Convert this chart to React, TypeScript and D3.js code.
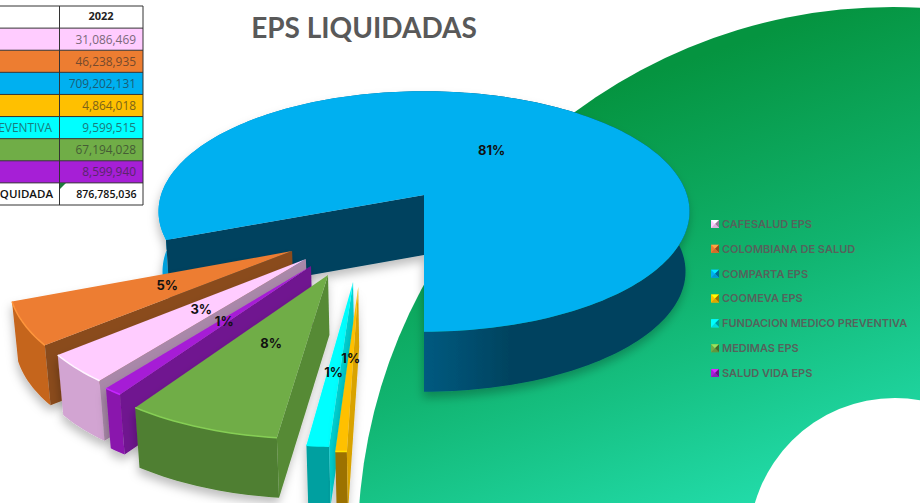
import React from 'react';
import * as d3 from 'd3';

const categories = [
  'CAFESALUD EPS',
  'COLOMBIANA DE SALUD',
  'COMPARTA EPS',
  'COOMEVA EPS',
  'FUNDACION MEDICO PREVENTIVA',
  'MEDIMAS EPS',
  'SALUD VIDA EPS',
];
const values = [31086469, 46238935, 709202131, 4864018, 9599515, 67194028, 8599940];
const percentLabels = ['3%', '5%', '81%', '1%', '1%', '8%', '1%'];
const totalValue = 876785036;
const colors = ['#ffccff', '#ed7d31', '#00b0f0', '#ffc000', '#00ffff', '#70ad47', '#a61fd6'];
const sideColors = ['#a988a9', '#8a4b1d', '#00435f', '#d9a300', '#00d4d4', '#568a36', '#6f1290'];
const rimColors = ['#d2a4d2', '#c5651f', '#045a80', '#9c7200', '#00a0a0', '#4f7f33', '#8a17ad'];

// how far each slice is pulled out of the pie, in pie radii
const pullU = [-0.418, -0.471, 0, -0.226, -0.245, -0.334, -0.397];
const pullV = [0.505, 0.446, 0, 0.705, 0.669, 0.62, 0.556];
const sliceRadius = [0.99, 0.99, 1, 0.97, 0.98, 0.99, 0.98];
const labelRadius = [0.48, 0.48, 0.48, 0.46, 0.58, 0.48, 0.46];

const width = 920;
const height = 503;
const cx = 424;
const cy = 195;
const radiusX = 263;
const radiusY = 118;
const tilt = 0.137;
const depth = 60;

const project = (u: number, v: number, down: number): [number, number] => {
  const s = 1 / (1 - tilt * v);
  const shrink = down ? 0.985 : 1;
  return [cx + radiusX * u * s * shrink, cy + radiusY * v * s + down * depth];
};

const line = d3.line();
const fmt = d3.format(',');

const total = d3.sum(values);
const compartaEnd = d3.sum(values.slice(0, 3)) / total;
const startAngle = Math.PI - 2 * Math.PI * compartaEnd;
const pie = d3
  .pie<number>()
  .sort(null)
  .startAngle(startAngle)
  .endAngle(startAngle + 2 * Math.PI);
const arcs = pie(values);

const drawOrder = d3.range(values.length).sort((a, b) => d3.ascending(pullV[a], pullV[b]));

const sliceParts = (i: number) => {
  const { startAngle: a0, endAngle: a1 } = arcs[i];
  const at = (a: number, r: number, down: number) =>
    project(pullU[i] + r * Math.sin(a), pullV[i] - r * Math.cos(a), down);
  const steps = Math.max(4, Math.ceil((a1 - a0) * 40));
  const angle = d3.scaleLinear().domain([0, steps]).range([a0, a1]);
  const angles = d3.range(steps + 1).map(n => angle(n));
  const r = sliceRadius[i];
  const topArc = angles.map(a => at(a, r, 0));
  const bottomArc = angles.map(a => at(a, r, 1));
  return {
    face: line([at(0, 0, 0), ...topArc]) + 'Z',
    rim: line(topArc) as string,
    wall: line([...topArc, ...bottomArc.reverse()]) + 'Z',
    side: line([at(0, 0, 0), at(a0, r, 0), at(a0, r, 1), at(0, 0, 1)]) + 'Z',
    label: at((a0 + a1) / 2, labelRadius[i], 0),
  };
};

const tableRows = d3.scaleBand<number>().domain(d3.range(9)).range([6, 205]);
const legendY = d3.scalePoint<number>().domain(d3.range(categories.length)).range([224, 373]);

const textOn = (c: string) => d3.interpolateRgb(c, '#2a2a2a')(0.62);

const Swatch = ({ x, y, color }: { x: number; y: number; color: string }) => {
  const c = d3.color(color)!;
  const left = x - 4;
  const right = x + 4;
  const top = y - 4;
  const bottom = y + 4;
  return (
    <g>
      <rect x={left} y={top} width={8} height={8} fill={color} />
      <path d={`M${left},${top}L${right},${top}L${x},${y}Z`} fill={c.brighter(0.8).formatHex()} />
      <path d={`M${right},${top}L${right},${bottom}L${x},${y}Z`} fill={c.darker(1.4).formatHex()} />
      <path d={`M${left},${bottom}L${right},${bottom}L${x},${y}Z`} fill={c.darker(0.4).formatHex()} />
    </g>
  );
};

const App = () => {
  return (
    <svg
      width={width}
      height={height}
      style={{ position: 'absolute', left: 0, top: 0, background: '#fff' }}
      fontFamily="'Open Sans', sans-serif"
    >
      <defs>
        <linearGradient id="bg" gradientUnits="userSpaceOnUse" x1={660} y1={70} x2={810} y2={490}>
          <stop offset="0" stopColor="#059440" />
          <stop offset="0.5" stopColor="#11b470" />
          <stop offset="1" stopColor="#22dcaa" />
        </linearGradient>
        <linearGradient id="blueWall" gradientUnits="userSpaceOnUse" x1={158} y1={0} x2={691} y2={0}>
          <stop offset="0.03" stopColor="#00a0dc" />
          <stop offset="0.5" stopColor="#045a80" />
          <stop offset="0.66" stopColor="#00435f" />
          <stop offset="1" stopColor="#00435f" />
        </linearGradient>
        <filter id="shadow" x="-30%" y="-30%" width="160%" height="160%">
          <feDropShadow dx={-1} dy={6} stdDeviation={5} floodColor="#000" floodOpacity={0.25} />
        </filter>
      </defs>

      <circle cx={893} cy={542} r={535} fill="url(#bg)" />
      <circle cx={895} cy={544} r={146} fill="#fff" />

      <text x={364} y={38} textAnchor="middle" fontFamily="Lato" fontWeight={700} fontSize={28} fill="#595959">
        EPS LIQUIDADAS
      </text>

      <g fontSize={11.9}>
        <rect x={0} y={tableRows(0)} width={143} height={199} fill="#fff" />
        {categories.map((name, i) => (
          <g key={name}>
            <rect x={0} y={tableRows(i + 1)} width={143} height={tableRows.bandwidth()} fill={colors[i]} />
            {name.length > 20 && (
              <text x={52} y={tableRows(i + 1)! + 15.5} textAnchor="end" fill={textOn(colors[i])}>
                {name}
              </text>
            )}
            <text x={136} y={tableRows(i + 1)! + 15.5} textAnchor="end" fill={textOn(colors[i])}>
              {fmt(values[i])}
            </text>
          </g>
        ))}
        <text x={101} y={tableRows(0)! + 14} textAnchor="middle" fontWeight={700} fontSize={11} fill="#222">
          2022
        </text>
        <text x={53} y={tableRows(8)! + 15.5} textAnchor="end" fontWeight={600} fontSize={11.5} fill="#111">
          TOTAL EPS LIQUIDADA
        </text>
        <text x={136.5} y={tableRows(8)! + 15.5} textAnchor="end" fontWeight={600} fontSize={10.6} fill="#111">
          {fmt(totalValue)}
        </text>
        {d3.range(10).map(r => {
          const y = r === 9 ? 205 : (tableRows(r) as number);
          return <line key={r} x1={0} x2={143} y1={y} y2={y} stroke="#333" />;
        })}
        <line x1={59.5} x2={59.5} y1={6} y2={205} stroke="#333" />
        <line x1={143} x2={143} y1={6} y2={205} stroke="#333" />
        <path d={`M60,${tableRows(8)}h6l-6,6Z`} fill="#1e7a3c" />
      </g>

      {drawOrder.map(i => {
        const p = sliceParts(i);
        const isMain = i === 2;
        return (
          <g key={categories[i]} filter="url(#shadow)">
            <path d={p.wall} fill={isMain ? 'url(#blueWall)' : rimColors[i]} />
            <path d={p.side} fill={sideColors[i]} />
            <path d={p.face} fill={colors[i]} />
            {!isMain && (
              <path
                d={p.rim}
                fill="none"
                stroke={d3.color(colors[i])!.brighter(0.5).formatHex()}
                strokeWidth={1.5}
              />
            )}
          </g>
        );
      })}

      {drawOrder.map(i => {
        const [x, y] = sliceParts(i).label;
        return (
          <text
            key={i}
            x={x}
            y={y}
            dy="0.35em"
            textAnchor="middle"
            fontFamily="Inter"
            fontWeight={700}
            fontSize={13}
            fill="#111"
          >
            {percentLabels[i]}
          </text>
        );
      })}

      {categories.map((name, i) => (
        <g key={name}>
          <Swatch x={715} y={legendY(i)!} color={colors[i]} />
          <text
            x={722}
            y={legendY(i)!}
            dy="0.35em"
            fontFamily="Inter"
            fontWeight={600}
            fontSize={11}
            fill="#55635c"
          >
            {name}
          </text>
        </g>
      ))}
    </svg>
  );
};

export default App;
